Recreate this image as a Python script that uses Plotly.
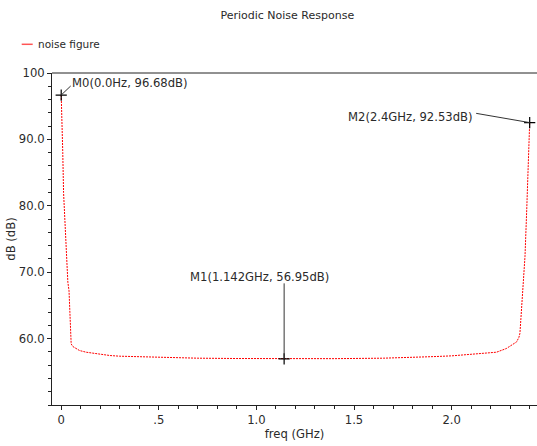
import plotly.graph_objects as go

# ---- data ----
freq_ghz = [0.0, 0.003, 0.008, 0.012, 0.02, 0.026, 0.034, 0.040, 0.044, 0.047, 0.051,
            0.06, 0.077, 0.094, 0.128, 0.15, 0.196, 0.25, 0.3, 0.4, 0.5, 0.7, 0.9,
            1.142, 1.4, 1.65, 1.8, 1.92, 2.0, 2.1, 2.16, 2.23, 2.28, 2.31, 2.333,
            2.345, 2.35, 2.355, 2.36, 2.368, 2.376, 2.385, 2.392, 2.397, 2.4]
noise_db = [96.68, 94.4, 88.0, 82.0, 77.0, 74.0, 68.5, 67.2, 63.0, 60.4, 59.2,
            58.8, 58.45, 58.2, 57.95, 57.85, 57.65, 57.45, 57.35, 57.25, 57.15, 57.05, 57.0,
            56.95, 56.98, 57.05, 57.15, 57.3, 57.4, 57.6, 57.7, 57.95, 58.5, 59.0, 59.5,
            60.2, 60.8, 63.0, 65.0, 69.0, 72.4, 79.5, 85.0, 88.5, 92.53]

marker_names = ["M0", "M1", "M2"]
marker_freq = [0.0, 1.142, 2.4]
marker_db = [96.68, 56.95, 92.53]
marker_labels = ["M0(0.0Hz, 96.68dB)", "M1(1.142GHz, 56.95dB)", "M2(2.4GHz, 92.53dB)"]

x_tickvals = [0, 0.5, 1.0, 1.5, 2.0]
x_ticktext = ["0", ".5", "1.0", "1.5", "2.0"]
y_tickvals = [60, 70, 80, 90, 100]
y_ticktext = ["60.0", "70.0", "80.0", "90.0", "100"]

FONT = "DejaVu Sans"
TXT = "#2a2a2a"
PW = 485.0   # plot width in px
PH = 332.0   # plot height in px

fig = go.Figure()
fig.add_trace(go.Scatter(
    x=freq_ghz, y=noise_db, mode="lines", name="noise figure",
    line=dict(color="#ff0000", width=1, dash="2px,1px"),
    showlegend=False, hoverinfo="skip"))
fig.add_trace(go.Scatter(
    x=marker_freq, y=marker_db, mode="markers", showlegend=False,
    marker=dict(symbol="cross-thin", size=8, line=dict(color="black", width=1.2), color="black"),
    hoverinfo="skip", cliponaxis=False))

# leader lines (arrow-only annotations) and label texts, positioned relative to markers
line_offsets = [(11, -10.5), (0, -77), (-55, -9.5)]
text_offsets = [(9, 12, "left"), (-96, 81.5, "left"), (-55, 6, "right")]
for i in range(3):
    ax, ay = line_offsets[i]
    fig.add_annotation(x=marker_freq[i], y=marker_db[i], xref="x", yref="y",
                       text="", showarrow=True, arrowhead=0, arrowwidth=1,
                       arrowcolor="#333333", ax=ax, ay=ay, standoff=0, startstandoff=0)
    xs, ys, anc = text_offsets[i]
    fig.add_annotation(x=marker_freq[i], y=marker_db[i], xref="x", yref="y",
                       text=marker_labels[i], showarrow=False, xanchor=anc, yanchor="middle",
                       xshift=xs, yshift=ys,
                       font=dict(family=FONT, size=11.6, color=TXT))

# legend (drawn manually)
leg_y = 1 + (73 - 44.3) / PH
fig.add_shape(type="line", xref="paper", yref="paper",
              x0=(21.7 - 52) / PW, x1=(32.7 - 52) / PW, y0=leg_y, y1=leg_y,
              line=dict(color="#ff5555", width=1.5))
fig.add_annotation(xref="paper", yref="paper", x=(35.5 - 52) / PW, y=leg_y,
                   text="noise figure", showarrow=False, xanchor="left", yanchor="middle",
                   font=dict(family=FONT, size=10.5, color=TXT))

# top frame line
fig.add_shape(type="line", xref="paper", yref="paper", x0=0, x1=1, y0=1, y1=1,
              line=dict(color="#222222", width=1))

fig.update_layout(
    width=537, height=446,
    margin=dict(l=52, r=0, t=73, b=41),
    paper_bgcolor="white", plot_bgcolor="white",
    title=dict(text="Periodic Noise Response", x=0.535, xref="container", xanchor="center",
               y=1 - 15/446, yref="container", yanchor="middle",
               font=dict(family=FONT, size=11, color=TXT)),
    font=dict(family=FONT, size=11.6, color=TXT),
)
fig.update_xaxes(
    range=[-0.0472, 2.4375], showgrid=False, zeroline=False,
    showline=True, linecolor="#222222", linewidth=1,
    tickmode="array", tickvals=x_tickvals, ticktext=x_ticktext,
    ticks="outside", ticklen=4, tickcolor="#222222", tickwidth=1,
    minor=dict(dtick=0.1, tick0=0, ticks="outside", ticklen=3, tickcolor="#222222", showgrid=False),
    tickfont=dict(family=FONT, size=11.6, color=TXT),
    title=dict(text="freq (GHz)", standoff=3, font=dict(family=FONT, size=11.6, color=TXT)),
)
fig.update_yaxes(
    range=[50, 100], showgrid=False, zeroline=False,
    showline=True, linecolor="#222222", linewidth=1,
    tickmode="array", tickvals=y_tickvals, ticktext=y_ticktext,
    ticks="outside", ticklen=4, tickcolor="#222222", tickwidth=1,
    minor=dict(dtick=2, tick0=50, ticks="outside", ticklen=3, tickcolor="#222222", showgrid=False),
    tickfont=dict(family=FONT, size=11.6, color=TXT),
    title=dict(text="dB (dB)", standoff=0, font=dict(family=FONT, size=11.6, color=TXT)),
)

fig.write_html("out.html", config={"displayModeBar": False},
               post_script="document.body.style.margin='0';document.body.style.overflow='hidden';")
